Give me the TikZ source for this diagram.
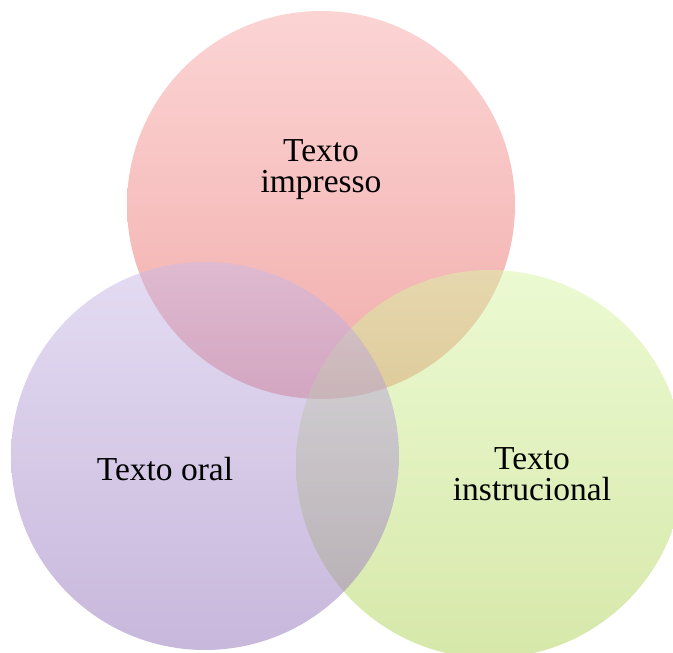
\documentclass[tikz,border=0pt]{standalone}
\usepackage{fontspec}
\setmainfont{Liberation Serif}
\begin{document}
\definecolor{pinkT}{RGB}{249,169,169}
\definecolor{pinkB}{RGB}{227,92,87}
\definecolor{purT}{RGB}{201,185,231}
\definecolor{purB}{RGB}{145,113,185}
\definecolor{grnT}{RGB}{217,245,165}
\definecolor{grnB}{RGB}{175,209,85}
\begin{tikzpicture}[x=1pt,y=-1pt,
  venn/.style={circle, minimum size=388pt, inner sep=0pt, fill opacity=0.5, draw=none},
  lbl/.style={font=\fontsize{33.5}{31}\selectfont, align=center, inner sep=0pt, text=black}]
\useasboundingbox (0,0) rectangle (673,653);
\clip (0,0) rectangle (673,653);
\node[venn, top color=pinkT, bottom color=pinkB] (impresso) at (321,205) {};
\node[venn, top color=grnT, bottom color=grnB] (instr) at (490,464) {};
\node[venn, top color=purT, bottom color=purB] (oral) at (205,456) {};
\node[lbl] (timp) at (321,169.5) {Texto\\impresso};
\node[lbl, anchor=base] (tora) at (165,480) {Texto oral};
\node[lbl] (tins) at (532,473.8) {Texto\\instrucional};
\end{tikzpicture}
\end{document}
